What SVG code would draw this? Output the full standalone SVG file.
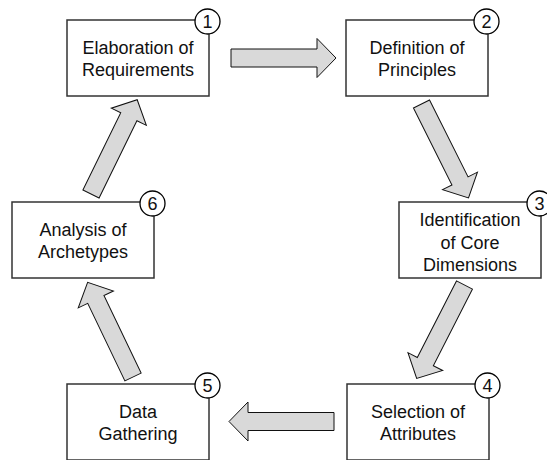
<svg xmlns="http://www.w3.org/2000/svg" xmlns:xlink="http://www.w3.org/1999/xlink" width="547" height="460" viewBox="0 0 547 460">
<style>
.box{fill:#fff;stroke:#333;stroke-width:1.5}
.num{fill:#fff;stroke:#000;stroke-width:1.3}
.lbl{font-family:"Liberation Sans",Arial,sans-serif;font-size:18px;fill:#111;text-anchor:middle}
.arr{fill:#d9d9d9;stroke:#111;stroke-width:1;stroke-linejoin:miter}
</style>
<defs>
<path id="arrow" d="M0,-9 L86,-9 L86,-19.5 L105,0 L86,19.5 L86,9 L0,9 Z"/>
</defs>
<rect width="547" height="460" fill="#fff"/>
<g id="connectors">
<use xlink:href="#arrow" class="arr" transform="translate(231,58)"/>
<use xlink:href="#arrow" class="arr" transform="translate(421.5,104) rotate(63.4)"/>
<use xlink:href="#arrow" class="arr" transform="translate(464.5,285) rotate(117.1)"/>
<use xlink:href="#arrow" class="arr" transform="translate(334,421.5) rotate(180)"/>
<use xlink:href="#arrow" class="arr" transform="translate(133,377) rotate(-115.6)"/>
<use xlink:href="#arrow" class="arr" transform="translate(91,194) rotate(-63.9)"/>
</g>
<g id="node1">
<rect class="box" x="67" y="20" width="142" height="76"/>
<text class="lbl" x="138" y="53.5">Elaboration of</text>
<text class="lbl" x="138" y="75.5">Requirements</text>
<circle class="num" cx="207.5" cy="21.5" r="12.5"/>
<text class="lbl" x="207.5" y="28">1</text>
</g>
<g id="node2">
<rect class="box" x="346" y="20" width="142" height="76"/>
<text class="lbl" x="417" y="53.5">Definition of</text>
<text class="lbl" x="417" y="75.5">Principles</text>
<circle class="num" cx="486.5" cy="21.5" r="12.5"/>
<text class="lbl" x="486.5" y="28">2</text>
</g>
<g id="node3">
<rect class="box" x="399" y="202" width="142" height="76"/>
<text class="lbl" x="470" y="226">Identification</text>
<text class="lbl" x="470" y="248.5">of Core</text>
<text class="lbl" x="470" y="271">Dimensions</text>
<circle class="num" cx="539.5" cy="203.5" r="12.5"/>
<text class="lbl" x="539.5" y="210">3</text>
</g>
<g id="node4">
<rect class="box" x="347" y="384" width="142" height="76"/>
<text class="lbl" x="418" y="417.5">Selection of</text>
<text class="lbl" x="418" y="439.5">Attributes</text>
<circle class="num" cx="487.5" cy="385.5" r="12.5"/>
<text class="lbl" x="487.5" y="392">4</text>
</g>
<g id="node5">
<rect class="box" x="67" y="384" width="142" height="76"/>
<text class="lbl" x="138" y="417.5">Data</text>
<text class="lbl" x="138" y="439.5">Gathering</text>
<circle class="num" cx="207.5" cy="385.5" r="12.5"/>
<text class="lbl" x="207.5" y="392">5</text>
</g>
<g id="node6">
<rect class="box" x="12" y="202" width="142" height="76"/>
<text class="lbl" x="83" y="235.5">Analysis of</text>
<text class="lbl" x="83" y="257.5">Archetypes</text>
<circle class="num" cx="152.5" cy="203.5" r="12.5"/>
<text class="lbl" x="152.5" y="210">6</text>
</g>
</svg>
